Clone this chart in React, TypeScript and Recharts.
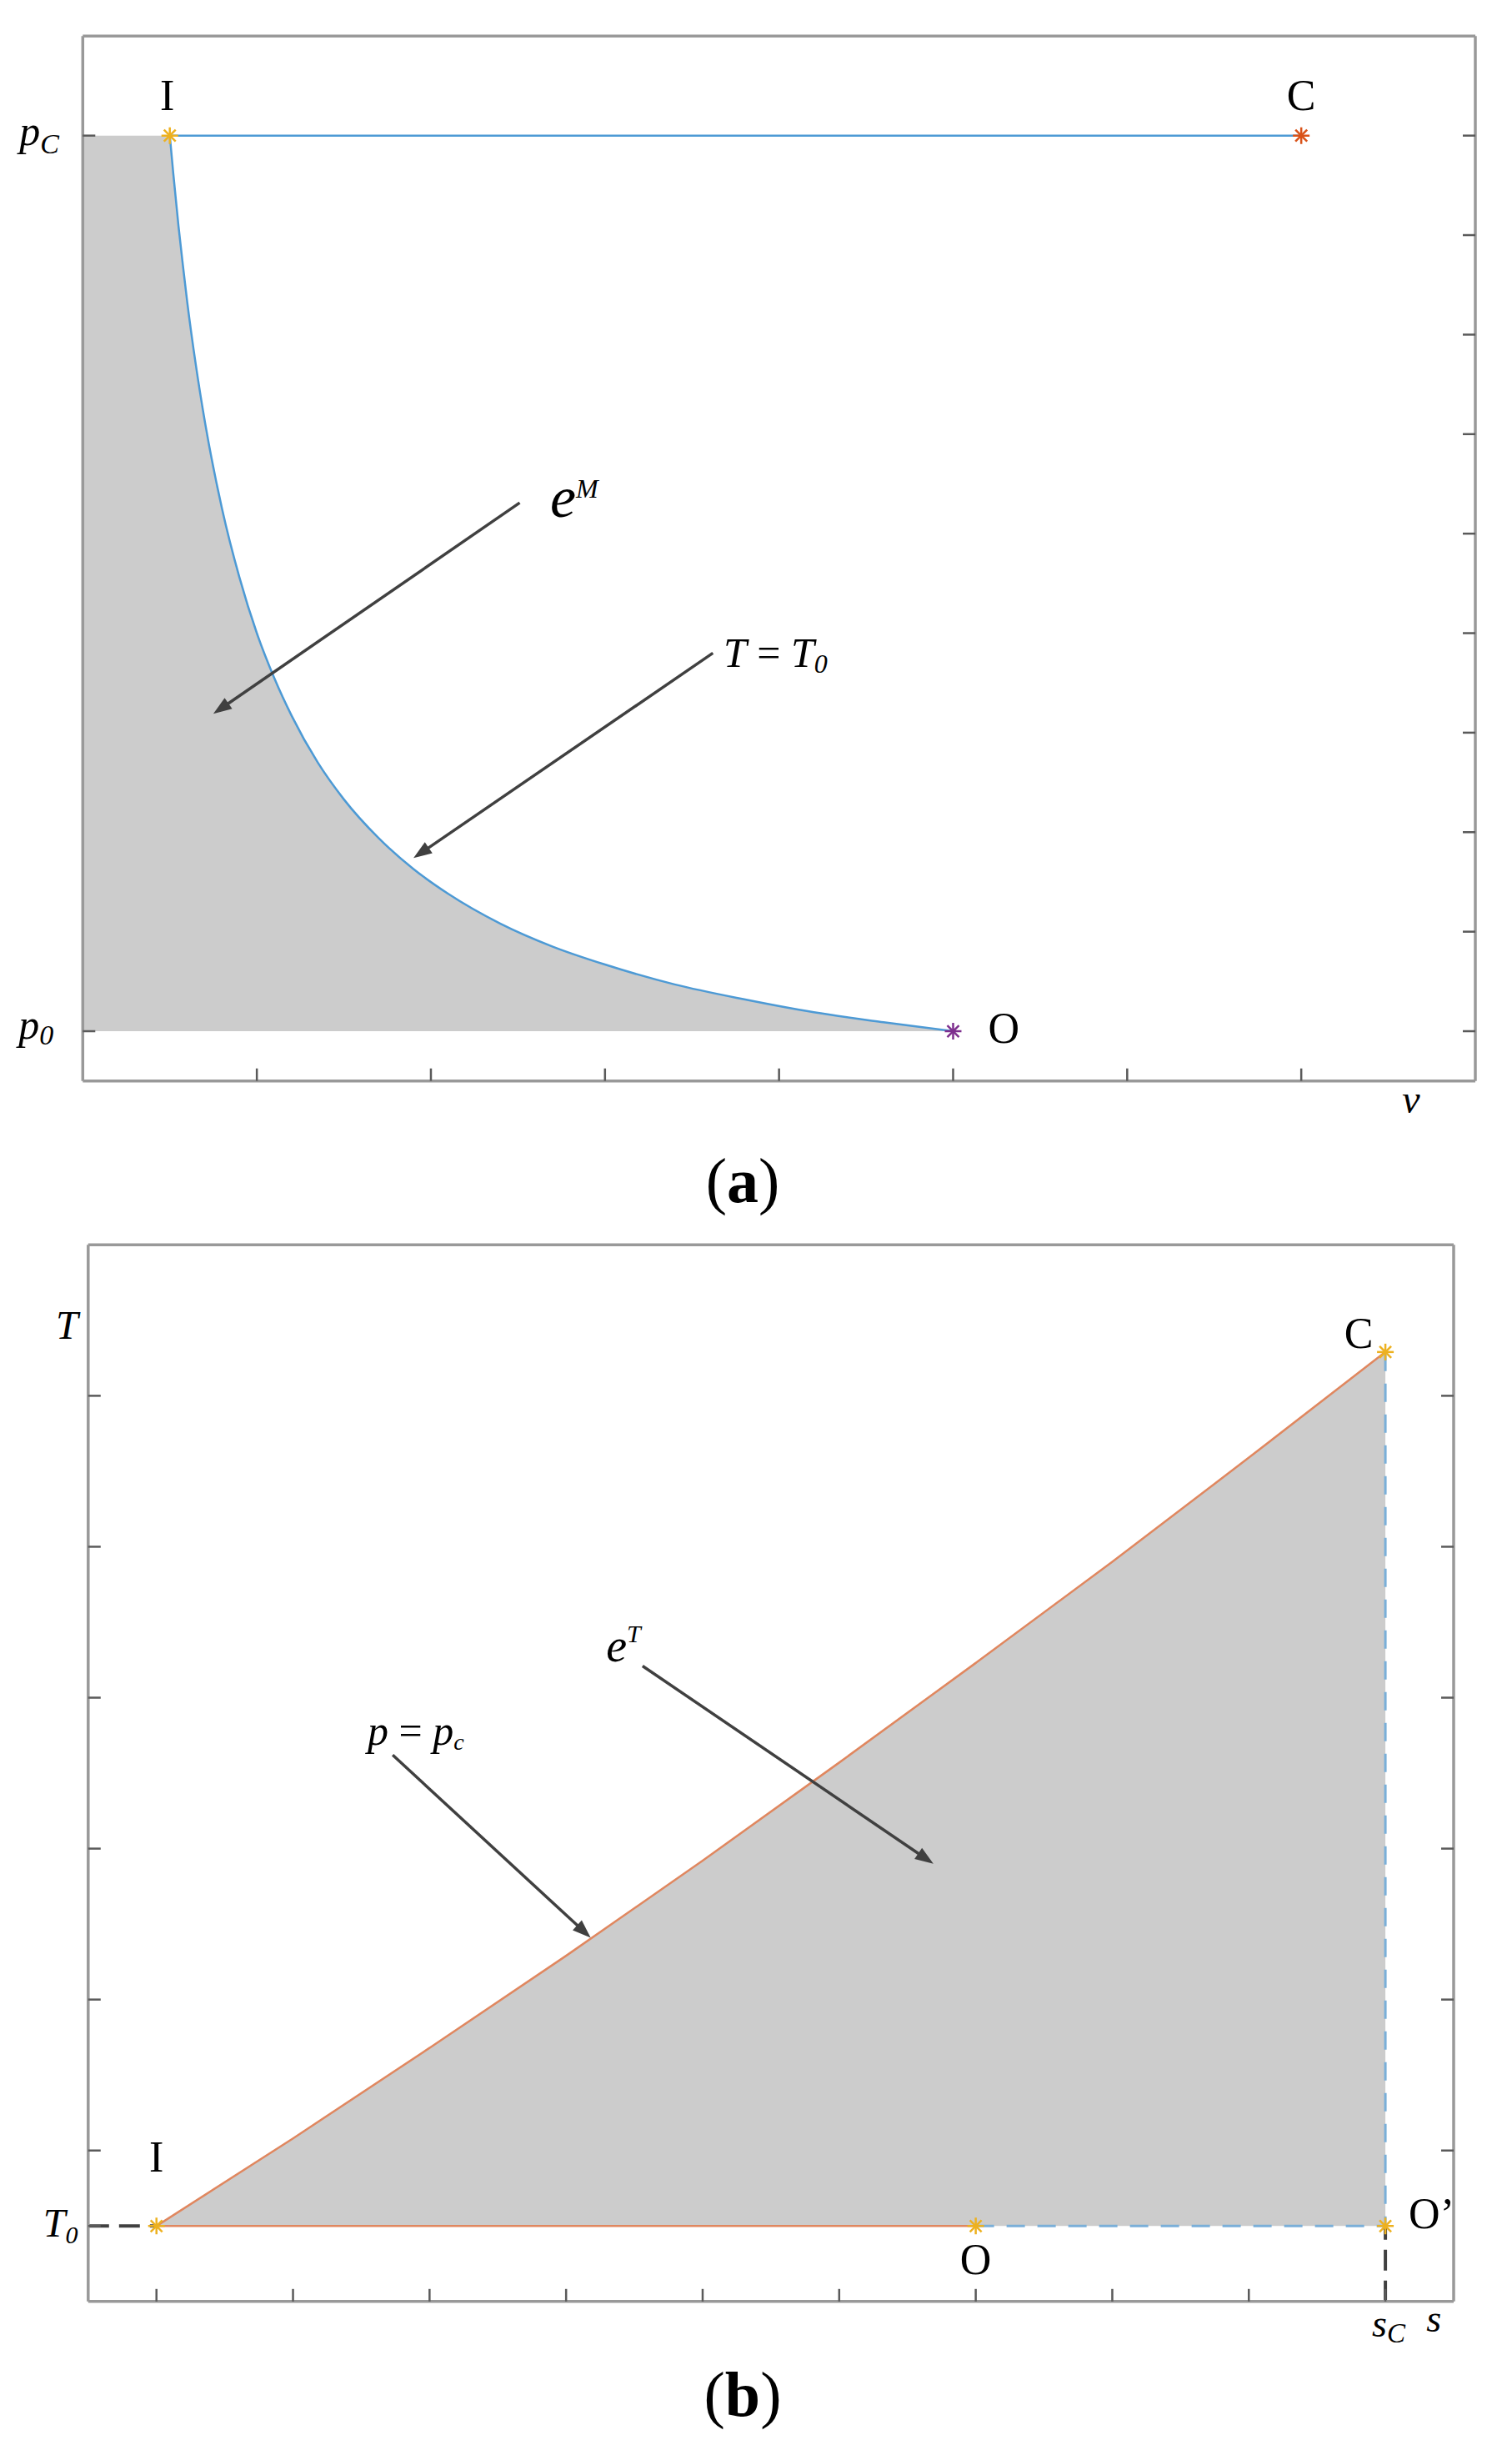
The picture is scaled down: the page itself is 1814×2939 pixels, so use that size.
import React from "react";
import {
  ComposedChart,
  Area,
  Line,
  Scatter,
  XAxis,
  YAxis,
  ReferenceLine,
  ReferenceDot,
} from "recharts";

const SERIF = '"Liberation Serif", "Times New Roman", Times, serif';

// ---------- panel (a): p-v plane (values in tick steps) ----------
const vTicksA = [1, 2, 3, 4, 5, 6, 7];
const pTicksA = [1, 2, 3, 4, 5, 6, 7, 8, 9, 10];
const pLabelTicksA = [1, 10];

// isotherm T = T0 from I to O
const isothermA = [
  { v: 0.5, p: 10 },
  { v: 0.52, p: 9.62 },
  { v: 0.55, p: 9.09 },
  { v: 0.575, p: 8.7 },
  { v: 0.6, p: 8.33 },
  { v: 0.65, p: 7.69 },
  { v: 0.7, p: 7.14 },
  { v: 0.8, p: 6.25 },
  { v: 0.9, p: 5.56 },
  { v: 1.0, p: 5.0 },
  { v: 1.1, p: 4.55 },
  { v: 1.2, p: 4.17 },
  { v: 1.35, p: 3.7 },
  { v: 1.5, p: 3.33 },
  { v: 1.7, p: 2.94 },
  { v: 1.9, p: 2.63 },
  { v: 2.1, p: 2.38 },
  { v: 2.4, p: 2.08 },
  { v: 2.7, p: 1.85 },
  { v: 3.0, p: 1.67 },
  { v: 3.4, p: 1.47 },
  { v: 3.8, p: 1.32 },
  { v: 4.2, p: 1.19 },
  { v: 4.6, p: 1.09 },
  { v: 5.0, p: 1.0 },
];
const isobarA = [
  { v: 0.5, p: 10 },
  { v: 7, p: 10 },
];
const statesA = [
  { name: "I", v: 0.5, p: 10 },
  { name: "C", v: 7, p: 10 },
  { name: "O", v: 5, p: 1 },
];
const fillA = [{ v: 0, p: 10 }, ...isothermA];

const arrowsA = [
  { x1: 2.51, y1: 6.31, x2: 0.75, y2: 4.19 },
  { x1: 3.62, y1: 4.8, x2: 1.9, y2: 2.74 },
];

// ---------- panel (b): T-s plane (values in tick steps) ----------
const sTicksB = [1, 2, 3, 4, 5, 6, 7, 8, 9, 10];
const tTicksLeftB = [0.5, 1, 2, 3, 4, 5, 6];
const tTicksRightB = [1, 2, 3, 4, 5, 6];

// isobar p = pc from I to C
const isobarB = [
  { s: 1, T: 0.5 },
  { s: 2, T: 1.08 },
  { s: 3, T: 1.68 },
  { s: 4, T: 2.29 },
  { s: 5, T: 2.92 },
  { s: 6, T: 3.57 },
  { s: 7, T: 4.23 },
  { s: 8, T: 4.9 },
  { s: 9, T: 5.59 },
  { s: 10, T: 6.29 },
];
const deadStateLineB = [
  { s: 1, T: 0.5 },
  { s: 7, T: 0.5 },
];
const closingPathB = [
  { s: 7, T: 0.5 },
  { s: 10, T: 0.5 },
  { s: 10, T: 6.29 },
];
const guideT0B = [
  { s: 0.5, T: 0.5 },
  { s: 1, T: 0.5 },
];
const guideSCB = [
  { s: 10, T: 0 },
  { s: 10, T: 0.5 },
];
const statesB = [
  { name: "I", s: 1, T: 0.5 },
  { name: "O", s: 7, T: 0.5 },
  { name: "O\u2019", s: 10, T: 0.5 },
  { name: "C", s: 10, T: 6.29 },
];

const arrowsB = [
  { x1: 2.73, y1: 3.62, x2: 4.18, y2: 2.41 },
  { x1: 4.56, y1: 4.21, x2: 6.69, y2: 2.9 },
];

// ---------- styles ----------
const AXIS = { stroke: "#999999", strokeWidth: 3.5 };
const TICK_LEN = 15;
const GRAY = "#cccccc";
const BLUE = "#4d9ad5";
const ORANGE = "#e0875f";
const LIGHT_BLUE = "#7aafd8";
const DARK = "#404040";

const markerColorA: Record<string, string> = {
  I: "#EDB120",
  C: "#D95319",
  O: "#7E2F8E",
};
const labelPosA: Record<string, [number, number, string]> = {
  I: [-3, -31, "middle"],
  C: [0, -31, "middle"],
  O: [42, 14, "start"],
};
const labelPosB: Record<string, [number, number, string]> = {
  I: [0, -65, "middle"],
  C: [-32, -5, "middle"],
  O: [0, 58, "middle"],
  "O\u2019": [28, 3, "start"],
};

type Side = "left" | "right" | "top" | "bottom";
type LabelFn = (x: number, y: number) => React.ReactNode;

function tickRenderer(side: Side, labels: Record<number, LabelFn> = {}) {
  return (props: any) => {
    const { x, y, payload } = props;
    const dx = side === "left" ? TICK_LEN : side === "right" ? -TICK_LEN : 0;
    const dy = side === "top" ? TICK_LEN : side === "bottom" ? -TICK_LEN : 0;
    const lab = labels[payload?.value];
    return (
      <g>
        <line x1={x} y1={y} x2={x + dx} y2={y + dy} stroke="#5a5a5a" strokeWidth={2.5} />
        {lab ? lab(x, y) : null}
      </g>
    );
  };
}

const star = (cx: number, cy: number, color: string) => {
  const r = 10;
  const d = 7;
  return (
    <g stroke={color} strokeWidth={2.5}>
      <line x1={cx - r} y1={cy} x2={cx + r} y2={cy} />
      <line x1={cx} y1={cy - r} x2={cx} y2={cy + r} />
      <line x1={cx - d} y1={cy - d} x2={cx + d} y2={cy + d} />
      <line x1={cx - d} y1={cy + d} x2={cx + d} y2={cy - d} />
    </g>
  );
};

const stateShape =
  (colors: (n: string) => string, pos: Record<string, [number, number, string]>) => (props: any) => {
    const { cx, cy, payload } = props;
    const [dx, dy, anchor] = pos[payload.name];
    return (
      <g>
        {star(cx, cy, colors(payload.name))}
        <text
          x={cx + dx}
          y={cy + dy}
          textAnchor={anchor as any}
          fontFamily={SERIF}
          fontSize={52}
          fill="#000"
        >
          {payload.name}
        </text>
      </g>
    );
  };

const ArrowShape = (props: any) => {
  const { x1, y1, x2, y2 } = props;
  const len = Math.hypot(x2 - x1, y2 - y1) || 1;
  const ux = (x2 - x1) / len;
  const uy = (y2 - y1) / len;
  const hl = 22;
  const hw = 8;
  const bx = x2 - ux * hl;
  const by = y2 - uy * hl;
  return (
    <g>
      <line x1={x1} y1={y1} x2={bx + ux * 3} y2={by + uy * 3} stroke={DARK} strokeWidth={3.5} />
      <polygon
        points={`${x2},${y2} ${bx - uy * hw},${by + ux * hw} ${bx + uy * hw},${by - ux * hw}`}
        fill={DARK}
      />
    </g>
  );
};

const textAt = (node: (x: number, y: number) => React.ReactNode) => (props: any) =>
  <g>{node(props.cx, props.cy)}</g>;

const it = { fontFamily: SERIF, fontStyle: "italic" as const, fill: "#000" };

// axes are 1px thick boxes so that Recharts draws them; margins compensate
const axisCommon = {
  tickSize: 0,
  tickMargin: 0,
  axisLine: AXIS,
  tickLine: false,
  interval: 0 as const,
  allowDataOverflow: true,
};

export default function App() {
  return (
    <div
      style={{
        position: "absolute",
        left: 0,
        top: 0,
        width: 1814,
        height: 2939,
        background: "#fff",
        overflow: "hidden",
      }}
    >
      {/* (a) */}
      <div style={{ position: "absolute", left: 0, top: 0 }}>
        <ComposedChart
          width={1814}
          height={1400}
          margin={{ top: 42.3, right: 43, bottom: 102.3, left: 98.3 }}
        >
          <Area
            xAxisId="b"
            yAxisId="l"
            data={fillA}
            dataKey="p"
            type="monotone"
            baseValue={1}
            fill={GRAY}
            fillOpacity={1}
            stroke="none"
            isAnimationActive={false}
          />
          <Line
            xAxisId="b"
            yAxisId="l"
            data={isothermA}
            dataKey="p"
            type="monotone"
            stroke={BLUE}
            strokeWidth={2.5}
            dot={false}
            isAnimationActive={false}
          />
          <Line
            xAxisId="b"
            yAxisId="l"
            data={isobarA}
            dataKey="p"
            type="linear"
            stroke={BLUE}
            strokeWidth={2.5}
            dot={false}
            isAnimationActive={false}
          />

          <XAxis
            {...axisCommon}
            xAxisId="b"
            dataKey="v"
            type="number"
            domain={[0, 8]}
            ticks={vTicksA}
            height={1}
            tick={tickRenderer("bottom")}
          />
          <XAxis
            {...axisCommon}
            xAxisId="t"
            orientation="top"
            type="number"
            domain={[0, 8]}
            ticks={vTicksA}
            height={1}
            tick={tickRenderer("top")}
          />
          <YAxis
            {...axisCommon}
            yAxisId="l"
            type="number"
            domain={[0.5, 11]}
            ticks={pLabelTicksA}
            width={1}
            tick={tickRenderer("left", {
              10: (x, y) => (
                <text x={x - 76} y={y + 11} fontSize={50} {...it}>
                  p<tspan fontSize={34} dy={10}>C</tspan>
                </text>
              ),
              1: (x, y) => (
                <text x={x - 77} y={y + 9} fontSize={50} {...it}>
                  p<tspan fontSize={34} dy={7}>0</tspan>
                </text>
              ),
            })}
          />
          <YAxis
            {...axisCommon}
            yAxisId="r"
            orientation="right"
            type="number"
            domain={[0.5, 11]}
            ticks={pTicksA}
            width={1}
            tick={tickRenderer("right")}
          />

          <Scatter
            xAxisId="b"
            yAxisId="l"
            data={statesA}
            dataKey="p"
            shape={stateShape((n) => markerColorA[n], labelPosA)}
            isAnimationActive={false}
          />

          {arrowsA.map((a, i) => (
            <ReferenceLine
              key={i}
              xAxisId="b"
              yAxisId="l"
              segment={[
                { x: a.x1, y: a.y1 },
                { x: a.x2, y: a.y2 },
              ]}
              ifOverflow="visible"
              shape={ArrowShape}
            />
          ))}
          <ReferenceDot
            xAxisId="b"
            yAxisId="l"
            x={2.685}
            y={6.167}
            ifOverflow="visible"
            shape={textAt((x, y) => (
              <text x={x} y={y} fontSize={70} {...it}>
                e<tspan fontSize={32} dy={-23}>M</tspan>
              </text>
            ))}
          />
          <ReferenceDot
            xAxisId="b"
            yAxisId="l"
            x={3.681}
            y={4.659}
            ifOverflow="visible"
            shape={textAt((x, y) => (
              <text x={x} y={y} fontSize={50} {...it}>
                T<tspan fontStyle="normal"> = </tspan>T<tspan fontSize={32} dy={7}>0</tspan>
              </text>
            ))}
          />
          <ReferenceDot
            xAxisId="b"
            yAxisId="l"
            x={7.58}
            y={0.179}
            ifOverflow="visible"
            shape={textAt((x, y) => (
              <text x={x} y={y} fontSize={48} {...it}>
                v
              </text>
            ))}
          />
        </ComposedChart>
      </div>

      {/* (b) */}
      <div style={{ position: "absolute", left: 0, top: 1400 }}>
        <ComposedChart
          width={1814}
          height={1539}
          margin={{ top: 92.3, right: 69, bottom: 177.2, left: 104.8 }}
        >
          <Area
            xAxisId="b"
            yAxisId="l"
            data={isobarB}
            dataKey="T"
            type="monotone"
            baseValue={0.5}
            fill={GRAY}
            fillOpacity={1}
            stroke="none"
            isAnimationActive={false}
          />
          <Line
            xAxisId="b"
            yAxisId="l"
            data={isobarB}
            dataKey="T"
            type="monotone"
            stroke={ORANGE}
            strokeWidth={2.5}
            dot={false}
            isAnimationActive={false}
          />
          <Line
            xAxisId="b"
            yAxisId="l"
            data={deadStateLineB}
            dataKey="T"
            type="linear"
            stroke={ORANGE}
            strokeWidth={2.5}
            dot={false}
            isAnimationActive={false}
          />
          <Line
            xAxisId="b"
            yAxisId="l"
            data={closingPathB}
            dataKey="T"
            type="linear"
            stroke={LIGHT_BLUE}
            strokeWidth={3}
            strokeDasharray="22 15"
            dot={false}
            isAnimationActive={false}
          />

          <XAxis
            {...axisCommon}
            xAxisId="b"
            dataKey="s"
            type="number"
            domain={[0.5, 10.5]}
            ticks={sTicksB}
            height={1}
            tick={tickRenderer("bottom", {
              10: (x, y) => (
                <text x={x - 16} y={y + 42} fontSize={46} {...it}>
                  s<tspan fontSize={33} dy={7}>C</tspan>
                </text>
              ),
            })}
          />
          <XAxis
            {...axisCommon}
            xAxisId="t"
            orientation="top"
            type="number"
            domain={[0.5, 10.5]}
            ticks={sTicksB}
            height={1}
            tick={tickRenderer("top")}
          />
          <YAxis
            {...axisCommon}
            yAxisId="l"
            type="number"
            domain={[0, 7]}
            ticks={tTicksLeftB}
            width={1}
            tick={tickRenderer("left", {
              0.5: (x, y) => (
                <text x={x - 54} y={y + 13} fontSize={48} {...it}>
                  T<tspan fontSize={30} dy={8}>0</tspan>
                </text>
              ),
            })}
          />
          <YAxis
            {...axisCommon}
            yAxisId="r"
            orientation="right"
            type="number"
            domain={[0, 7]}
            ticks={tTicksRightB}
            width={1}
            tick={tickRenderer("right")}
          />

          <Line
            xAxisId="b"
            yAxisId="l"
            data={guideT0B}
            dataKey="T"
            type="linear"
            stroke={DARK}
            strokeWidth={4}
            strokeDasharray="25 12"
            dot={false}
            isAnimationActive={false}
          />
          <Line
            xAxisId="b"
            yAxisId="l"
            data={guideSCB}
            dataKey="T"
            type="linear"
            stroke={DARK}
            strokeWidth={4}
            strokeDasharray="25 12"
            dot={false}
            isAnimationActive={false}
          />
          <Scatter
            xAxisId="b"
            yAxisId="l"
            data={statesB}
            dataKey="T"
            shape={stateShape(() => "#EDB120", labelPosB)}
            isAnimationActive={false}
          />

          {arrowsB.map((a, i) => (
            <ReferenceLine
              key={i}
              xAxisId="b"
              yAxisId="l"
              segment={[
                { x: a.x1, y: a.y1 },
                { x: a.x2, y: a.y2 },
              ]}
              ifOverflow="visible"
              shape={ArrowShape}
            />
          ))}
          <ReferenceDot
            xAxisId="b"
            yAxisId="l"
            x={2.546}
            y={3.689}
            ifOverflow="visible"
            shape={textAt((x, y) => (
              <text x={x} y={y} fontSize={50} {...it}>
                p<tspan fontStyle="normal"> = </tspan>p<tspan fontSize={28} dy={6}>c</tspan>
              </text>
            ))}
          />
          <ReferenceDot
            xAxisId="b"
            yAxisId="l"
            x={4.293}
            y={4.242}
            ifOverflow="visible"
            shape={textAt((x, y) => (
              <text x={x} y={y} fontSize={56} {...it}>
                e<tspan fontSize={30} dy={-23}>T</tspan>
              </text>
            ))}
          />
          <ReferenceDot
            xAxisId="b"
            yAxisId="l"
            x={0.263}
            y={6.38}
            ifOverflow="visible"
            shape={textAt((x, y) => (
              <text x={x} y={y} fontSize={48} {...it}>
                T
              </text>
            ))}
          />
          <ReferenceDot
            xAxisId="b"
            yAxisId="l"
            x={10.3}
            y={-0.2}
            ifOverflow="visible"
            shape={textAt((x, y) => (
              <text x={x} y={y} fontSize={46} {...it}>
                s
              </text>
            ))}
          />
        </ComposedChart>
      </div>

      <svg
        width={1814}
        height={2939}
        style={{ position: "absolute", left: 0, top: 0, pointerEvents: "none" }}
      >
        <text x={891} y={1442} textAnchor="middle" fontFamily={SERIF} fontSize={76} fill="#000">
          (<tspan fontWeight="bold">a</tspan>)
        </text>
        <text x={891} y={2898} textAnchor="middle" fontFamily={SERIF} fontSize={76} fill="#000">
          (<tspan fontWeight="bold">b</tspan>)
        </text>
      </svg>
    </div>
  );
}
